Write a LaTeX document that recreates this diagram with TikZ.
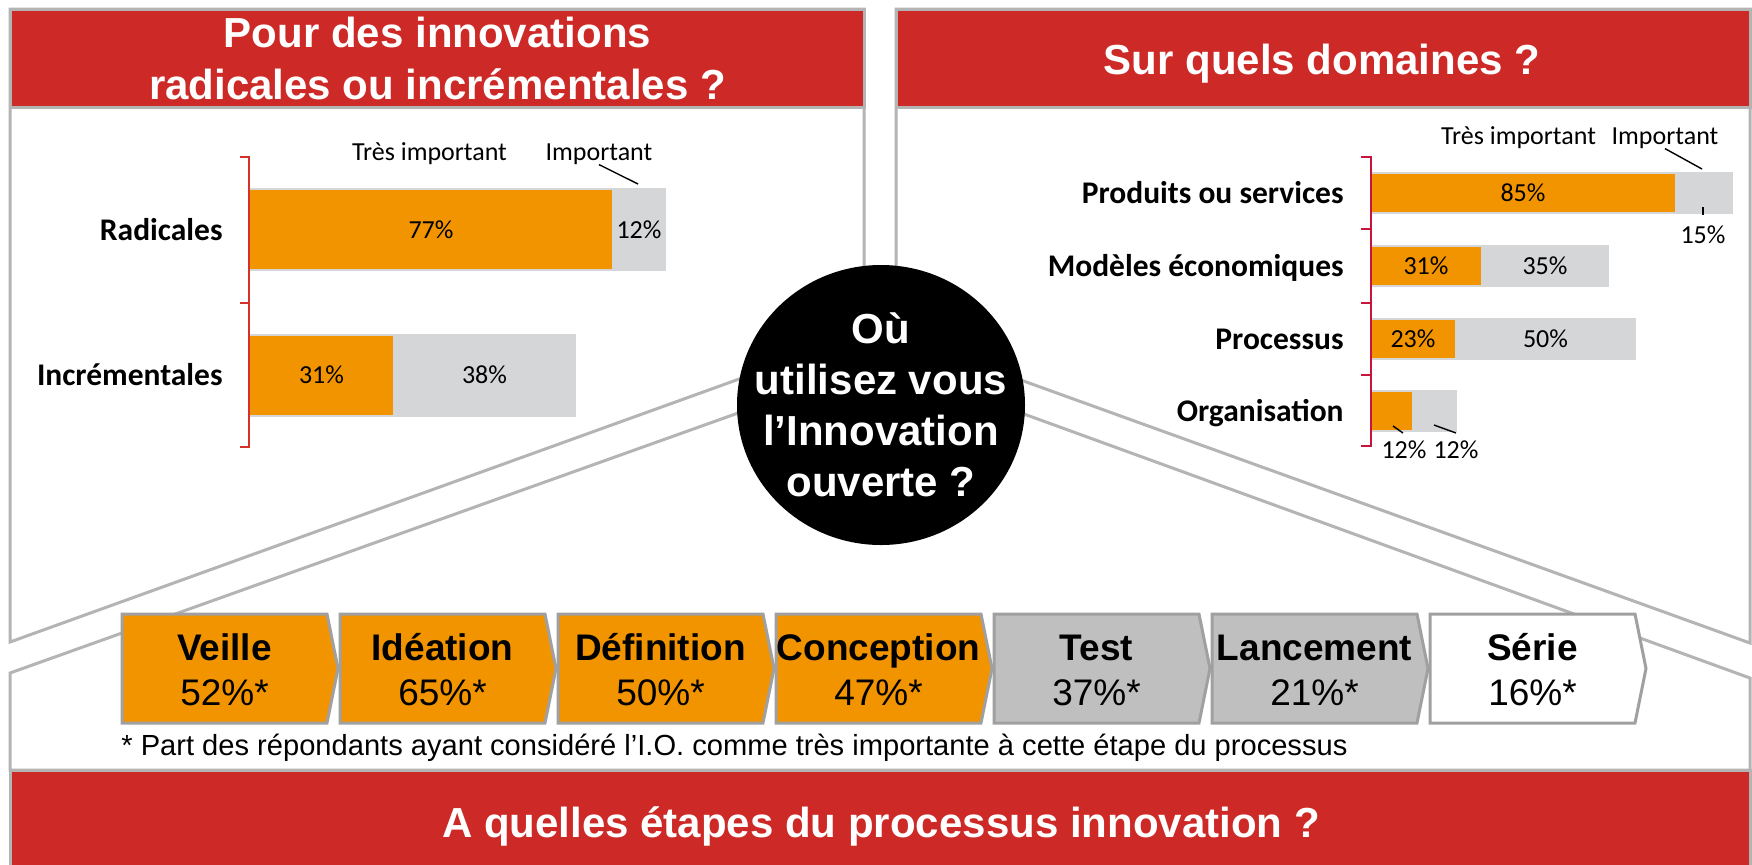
\documentclass[tikz,border=0pt]{standalone}
\usepackage{fontspec}
\setmainfont{Liberation Sans}
\newfontfamily\calibri{Carlito}

\definecolor{hdrred}{RGB}{205,42,39}
\definecolor{barorange}{RGB}{242,148,0}
\definecolor{bargray}{RGB}{213,214,216}
\definecolor{stepgray}{RGB}{191,191,191}
\definecolor{linegray}{RGB}{180,180,180}
\definecolor{edgegray}{RGB}{160,160,160}
\definecolor{axisred}{RGB}{210,50,40}
\definecolor{axiscrimson}{RGB}{200,20,60}

\tikzset{
  panel/.style={draw=linegray, line width=1.5pt},
  hdr/.style={fill=hdrred, draw=linegray, line width=1.5pt},
  hdrtxt/.style={text=white, font=\bfseries\fontsize{21}{26}\selectfont, align=center, inner sep=0pt},
  circtxt/.style={text=white, font=\bfseries\fontsize{21}{25.5}\selectfont, align=center, inner sep=0pt},
  cat/.style={font=\calibri\bfseries\fontsize{15.75}{18}\selectfont, anchor=base east, inner sep=0pt},
  pcttxt/.style={font=\calibri\fontsize{13}{15}\selectfont, inner sep=0pt},
  leader/.style={line width=0.7pt},
  stepbox/.style={draw=edgegray, line width=1.5pt},
  steptxt/.style={font=\fontsize{18.5}{22}\selectfont, anchor=base, inner sep=0pt}
}

\begin{document}
\begin{tikzpicture}[x=0.5pt,y=-0.5pt]

\useasboundingbox (0,0) rectangle (1752,864);
\fill[white] (0,0) rectangle (1752,864);

% panel outlines
\draw[panel] (10,9) -- (864,9) -- (864,334) -- (10,642) -- cycle;
\draw[panel] (896,9) -- (1750,9) -- (1750,643) -- (896,335) -- cycle;
\draw[panel] (881,362) -- (1750,678) -- (1750,770) -- (10,770) -- (10,673) -- cycle;

% headers
\draw[hdr] (10,9) rectangle (864,107);
\draw[hdr] (896,9) rectangle (1750,107);
\node[hdrtxt] (titleleft) at (437.5,58.5) {Pour des innovations\\radicales ou incrémentales ?};
\node[hdrtxt, anchor=base] (titleright) at (1322,74) {Sur quels domaines ?};

% radicales / incrementales
\node[pcttxt, anchor=base] (tresL) at (429.5,160) {Très important};
\node[pcttxt, anchor=base] (impL) at (599,160) {Important};
\coordinate (impLend) at (638,184);
\draw[leader] (impL.south) -- (impLend);

\foreach \y/\o/\g/\po/\pg/\name/\txt in {229.5/612/666/77/12/rad/Radicales, 375/393/576/31/38/inc/Incrémentales}{
  \fill[bargray] (250,\y-41.5) rectangle (\g,\y+41.5);
  \fill[barorange] (250,\y-39.5) rectangle (\o,\y+39.5);
  \node[pcttxt] (\name o) at ({(250+\o)/2},\y) {\po\%};
  \node[pcttxt] (\name g) at ({(\o+\g)/2},\y) {\pg\%};
  \node[cat] (\name) at (223,\y+10.5) {\txt};
}
\draw[axisred, line width=1pt] (240,157) -- (249,157) -- (249,447) -- (240,447);
\draw[axisred, line width=1pt] (240,303) -- (249,303);

% domaines
\node[pcttxt, anchor=base] (tresR) at (1518.5,144) {Très important};
\node[pcttxt, anchor=base] (impR) at (1665,144) {Important};
\coordinate (impRend) at (1702,169);
\draw[leader] (impR.south) -- (impRend);

\foreach \y/\o/\g/\name/\txt in {192.5/1675/1733/prod/Produits ou services, 265.5/1481/1609/mod/Modèles économiques, 338.5/1455/1636/proc/Processus, 410.5/1412/1457/org/Organisation}{
  \fill[bargray] (1372,\y-21) rectangle (\g,\y+21);
  \fill[barorange] (1372,\y-19) rectangle (\o,\y+19);
  \node[cat] (\name) at (1344,\y+10.5) {\txt};
}
\node[pcttxt] (prodo) at (1523,192.5) {85\%};
\node[pcttxt] (modo) at (1426,265.5) {31\%};
\node[pcttxt] (modg) at (1545,265.5) {35\%};
\node[pcttxt] (proco) at (1413,338.5) {23\%};
\node[pcttxt] (procg) at (1545.5,338.5) {50\%};
\node[pcttxt] (prodg) at (1703,234.5) {15\%};
\node[pcttxt] (orgo) at (1404,449.5) {12\%};
\node[pcttxt] (orgg) at (1456,449.5) {12\%};
\coordinate (prodtick) at (1703,207);
\draw[leader] (prodtick) -- ++(0,8);
\coordinate (orgotick) at (1393,426);
\coordinate (orggtick) at (1434,425);
\draw[leader] (orgotick) -- (1403,433);
\draw[leader] (orggtick) -- (1456,433);
\draw[axiscrimson, line width=1pt] (1361,157) -- (1371,157) -- (1371,446) -- (1361,446);
\foreach \t in {229,303,375}
  \draw[axiscrimson, line width=1pt] (1361,\t) -- (1371,\t);

% etapes
\foreach \n/\pc/\col [count=\i from 0] in {Veille/52/barorange, Idéation/65/barorange, Définition/50/barorange, Conception/47/barorange, Test/37/stepgray, Lancement/21/stepgray, Série/16/white}{
  \pgfmathsetmacro\xl{122+218*\i}
  \draw[stepbox, fill=\col] (\xl,614) -- ++(205,0) -- ++(11,54.5) -- ++(-11,54.5) -- ++(-205,0) -- cycle;
  \node[steptxt] (step\i) at (\xl+102.5,660) {\textbf{\n}};
  \node[steptxt] (stepp\i) at (\xl+102.5,705) {\pc\%*};
}
\node[anchor=base west, font=\fontsize{14.55}{16}\selectfont, inner sep=0pt] (note) at (121,755) {* Part des répondants ayant considéré l’I.O. comme très importante à cette étape du processus};

\draw[hdr] (10,770) rectangle (1750,872);
\node[hdrtxt, anchor=base] (titlebottom) at (881,837) {A quelles étapes du processus innovation ?};

% centre
\fill[black] (881,405) ellipse [x radius=72pt, y radius=70pt];
\node[circtxt] (askio) at (881,405) {Où\\utilisez vous\\l’Innovation\\ouverte ?};

\end{tikzpicture}
\end{document}
